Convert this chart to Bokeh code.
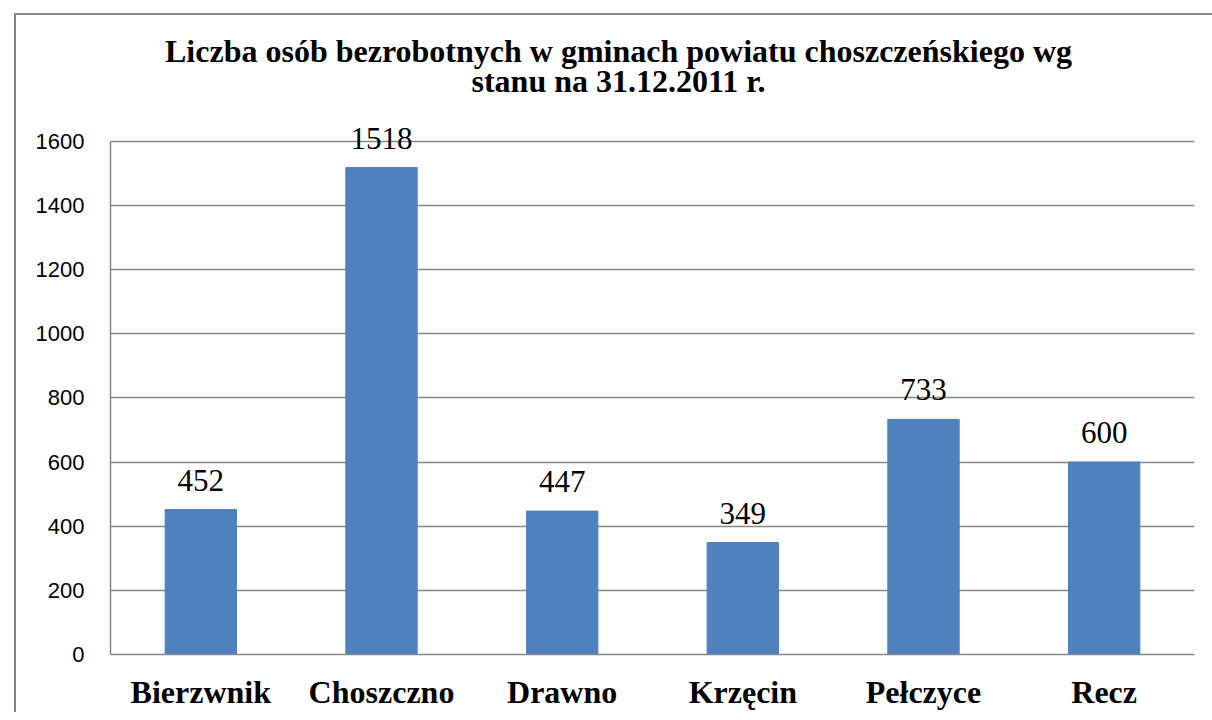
from bokeh.plotting import figure
from bokeh.layouts import column
from bokeh.models import ColumnDataSource, LabelSet, Label, FixedTicker, Range1d
from bokeh.embed import file_html
from bokeh.resources import INLINE

categories = ["Bierzwnik", "Choszczno", "Drawno", "Krzęcin", "Pełczyce", "Recz"]
values = [452, 1518, 447, 349, 733, 600]
y_ticks = [0, 200, 400, 600, 800, 1000, 1200, 1400, 1600]
title_line1 = "Liczba osób bezrobotnych w gminach powiatu choszczeńskiego wg"
title_line2 = "stanu na 31.12.2011 r."

GRAY = "#868686"
BAR = "#4F81BD"

source = ColumnDataSource(data=dict(cat=categories, val=values, lbl=[str(v) for v in values]))

fig = figure(x_range=categories, y_range=Range1d(0, 1992), width=1196, height=697,
             output_backend="svg", toolbar_location=None, title=None,
             min_border_left=94, min_border_right=18, min_border_top=0, min_border_bottom=58)

# chart title: two centred lines (screen units)
for txt, yy in ((title_line1, 604), (title_line2, 574)):
    fig.add_layout(Label(x=508, y=yy, x_units="screen", y_units="screen", text=txt,
                         text_align="center", text_baseline="alphabetic",
                         text_font="Liberation Serif", text_font_size="32px",
                         text_font_style="bold", text_color="black"))

fig.vbar(x="cat", top="val", width=0.395, source=source, fill_color=BAR, line_color=BAR)

labels = LabelSet(x="cat", y="val", text="lbl", source=source, text_align="center",
                  text_baseline="alphabetic", y_offset=19, text_font="Liberation Serif",
                  text_font_size="31px", text_color="black")
fig.add_layout(labels)

fig.outline_line_color = None
fig.background_fill_color = "white"
fig.border_fill_color = "white"

fig.xgrid.grid_line_color = None
fig.ygrid.grid_line_color = GRAY
fig.ygrid.grid_line_width = 1.5
fig.yaxis.ticker = FixedTicker(ticks=y_ticks)
fig.yaxis.bounds = (0, 1600)

fig.yaxis.axis_line_color = GRAY
fig.yaxis.axis_line_width = 1.5
fig.yaxis.major_tick_line_color = None
fig.yaxis.minor_tick_line_color = None
fig.yaxis.major_label_text_font = "Liberation Sans"
fig.yaxis.major_label_text_font_size = "22px"
fig.yaxis.major_label_text_color = "black"
fig.yaxis.major_label_standoff = 26
fig.yaxis.major_tick_in = 0
fig.yaxis.major_tick_out = 0

fig.xaxis.axis_line_color = GRAY
fig.xaxis.axis_line_width = 1.5
fig.xaxis.major_tick_line_color = None
fig.xaxis.minor_tick_line_color = None
fig.xaxis.major_tick_in = 0
fig.xaxis.major_tick_out = 0
fig.xaxis.major_label_text_font = "Liberation Serif"
fig.xaxis.major_label_text_font_size = "32px"
fig.xaxis.major_label_text_font_style = "bold"
fig.xaxis.major_label_text_color = "black"
fig.xaxis.major_label_standoff = 19

fig.x_range.range_padding = 0.0

p = column(fig, styles={"margin-left": "14px", "margin-top": "13px",
                        "border-left": "2px solid #868686", "border-top": "2px solid #868686"})

open("out.html", "w").write(file_html(p, INLINE))
